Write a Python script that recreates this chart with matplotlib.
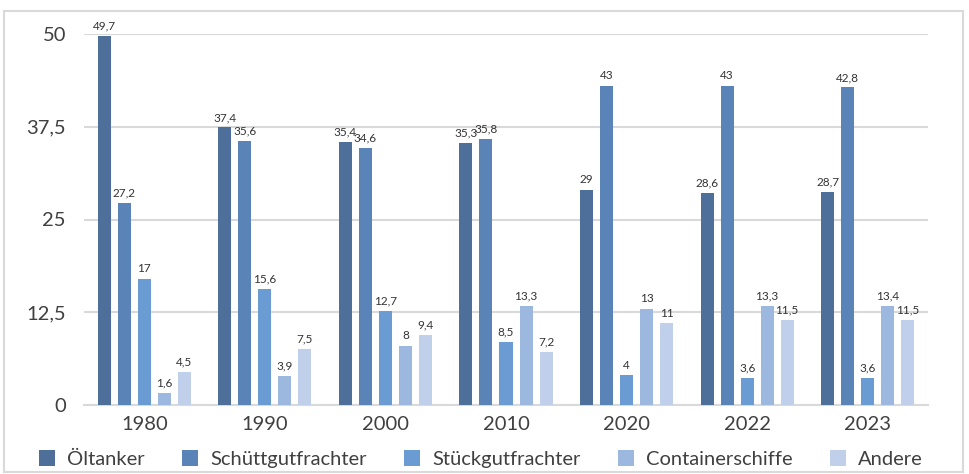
import numpy as np
import matplotlib.pyplot as plt
from matplotlib.patches import Rectangle

years = ['1980', '1990', '2000', '2010', '2020', '2022', '2023']
series_names = ['Öltanker', 'Schüttgutfrachter', 'Stückgutfrachter', 'Containerschiffe', 'Andere']
oeltanker = [49.7, 37.4, 35.4, 35.3, 29, 28.6, 28.7]
schuettgut = [27.2, 35.6, 34.6, 35.8, 43, 43, 42.8]
stueckgut = [17, 15.6, 12.7, 8.5, 4, 3.6, 3.6]
container = [1.6, 3.9, 8, 13.3, 13, 13.3, 13.4]
andere = [4.5, 7.5, 9.4, 7.2, 11, 11.5, 11.5]
colors = ['#4e6f99', '#5a83b8', '#6b9bd3', '#9db8df', '#c0d0ea']

plt.rcParams['font.family'] = ['Lato', 'DejaVu Sans']


def fmt(v):
    # German decimal comma
    return ('%g' % v).replace('.', ',')


fig = plt.figure(figsize=(9.7, 4.74), dpi=100)
fig.add_artist(Rectangle((4 / 970, 2 / 474), 959 / 970, 461 / 474, transform=fig.transFigure,
                         fill=False, edgecolor='#d9d9d9', linewidth=1.5))
ax = fig.add_axes([84 / 970, 69 / 474, 844 / 970, 371 / 474])

x = np.arange(len(years))
width = 0.108
step = 0.166
all_series = [oeltanker, schuettgut, stueckgut, container, andere]
for i, (vals, name, c) in enumerate(zip(all_series, series_names, colors)):
    pos = x + (i - 2) * step
    bars = ax.bar(pos, vals, width, color=c, label=name, zorder=3)
    for b, v in zip(bars, vals):
        ax.text(b.get_x() + b.get_width() / 2, v + 0.6, fmt(v), ha='center', va='bottom',
                fontsize=8.5, color='#333333', zorder=4)

ax.set_xlim(-0.5, len(years) - 0.5)
ax.set_ylim(0, 50)
ax.set_yticks([0, 12.5, 25, 37.5, 50])
ax.set_yticklabels(['0', '12,5', '25', '37,5', '50'])
ax.set_xticks(x)
ax.set_xticklabels(years)
ax.tick_params(axis='both', length=0, labelsize=14.5, colors='#404040')
ax.tick_params(axis='y', pad=13)
ax.tick_params(axis='x', pad=8)
ax.grid(axis='y', color='#d9d9d9', linewidth=1.5, zorder=0)
for s in ['top', 'right', 'left']:
    ax.spines[s].set_visible(False)
ax.spines['bottom'].set_color('#d9d9d9')
ax.spines['bottom'].set_linewidth(1.5)

fig.legend(loc='lower left', bbox_to_anchor=(21 / 970, -12 / 474), ncol=5, frameon=False,
           fontsize=14.5, handlelength=0.8, handleheight=0.8, handletextpad=0.6,
           columnspacing=1.85, labelcolor='#404040')

fig.savefig('out.png', dpi=100)
